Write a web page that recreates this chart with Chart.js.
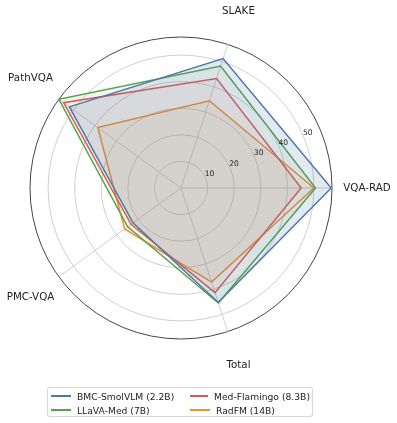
<!DOCTYPE html>
<html>
<head>
<meta charset="utf-8">
<script src="https://cdn.jsdelivr.net/npm/chart.js@4.4.1/dist/chart.umd.min.js"></script>
<style>
  body { margin: 0; background: #fff; }
  #wrap { position: relative; width: 397px; height: 423px; }
  #legend {
    position: absolute; left: 47px; top: 387px; width: 266px; height: 30px;
    box-sizing: border-box; border: 1px solid #d6d6d6; border-radius: 3px;
    font-family: "DejaVu Sans", sans-serif; font-size: 9.2px; color: #222;
    display: grid; grid-template-columns: 139px 120px; grid-auto-rows: 14px;
    padding: 1px 0 0 3px;
  }
  #legend div { display: flex; align-items: center; white-space: nowrap; }
  #legend span.ln { display: inline-block; width: 20px; height: 0; border-top: 2px solid; margin-right: 6px; }
</style>
</head>
<body>
<div id="wrap">
  <canvas id="radar" width="397" height="423"></canvas>
  <div id="legend"></div>
</div>
<script>
// axes in chart.js order (clockwise from the right, startAngle 90)
let categories = ["VQA-RAD", "Total", "PMC-VQA", "PathVQA", "SLAKE"];
let tickValues = [10, 20, 30, 40, 50];

let bmcSmol = [56.5, 45.3, 22.3, 51.9, 51.2];
let llavaMed = [50.6, 45.5, 24.8, 56.8, 48.2];
let medFlamingo = [45.2, 41.4, 23.2, 54.6, 43.3];
let radFM = [50.0, 37.2, 26.2, 38.7, 34.5];

let seriesNames = ["BMC-SmolVLM (2.2B)", "LLaVA-Med (7B)", "Med-Flamingo (8.3B)", "RadFM (14B)"];
let seriesColors = ["#4e79a7", "#59a14f", "#e15759", "#f28e2b"];
let fillAlpha = [0.16, 0.08, 0.08, 0.08];
let seriesData = [bmcSmol, llavaMed, medFlamingo, radFM];

let maxVal = Math.max(...seriesData.flat());

function fade(hex, a) {
  let n = parseInt(hex.slice(1), 16);
  return "rgba(" + (n >> 16) + "," + ((n >> 8) & 255) + "," + (n & 255) + "," + a + ")";
}

let datasets = seriesData.map((d, i) => ({
  label: seriesNames[i],
  data: d,
  borderColor: seriesColors[i],
  backgroundColor: fade(seriesColors[i], fillAlpha[i]),
  borderWidth: 1.5,
  pointRadius: 0,
  fill: true,
}));

// axis names and radial tick labels, matplotlib style
let labelPlugin = {
  id: "labelPlugin",
  afterDatasetsDraw(chart) {
    let r = chart.scales.r;
    let ctx = chart.ctx;
    ctx.save();
    ctx.textAlign = "center";
    ctx.textBaseline = "middle";
    ctx.fillStyle = "#222";
    ctx.font = "10.3px 'DejaVu Sans'";
    categories.forEach((c, i) => {
      let p = r.getPointPosition(i, r.drawingArea + 35);
      ctx.fillText(c, p.x, p.y);
    });
    ctx.font = "7.6px 'DejaVu Sans'";
    let a = 22.5 * Math.PI / 180;
    tickValues.forEach(v => {
      let d = r.getDistanceFromCenterForValue(v);
      ctx.fillText(String(v), r.xCenter + d * Math.cos(a) + 4, r.yCenter - d * Math.sin(a) - 4);
    });
    ctx.restore();
  }
};

let radarChart = new Chart(document.getElementById("radar").getContext("2d"), {
  type: "radar",
  data: { labels: categories, datasets: datasets },
  options: {
    responsive: false,
    animation: false,
    layout: { padding: { left: 30, top: 37, right: 65, bottom: 84 } },
    plugins: { legend: { display: false }, tooltip: { enabled: false } },
    elements: { line: { tension: 0 } },
    scales: {
      r: {
        min: 0,
        max: maxVal,
        startAngle: 90,
        ticks: { display: false, stepSize: 10 },
        pointLabels: { display: false },
        grid: {
          circular: true,
          color: (c) => (c.tick && c.tick.value >= maxVal ? "#444" : "#cfcfcf"),
          lineWidth: 1,
        },
        angleLines: { color: "#cfcfcf", lineWidth: 1 },
      },
    },
  },
  plugins: [labelPlugin],
});

// legend laid out in two columns like the original
let legendOrder = [0, 2, 1, 3];
let legendBox = document.getElementById("legend");
legendOrder.forEach(i => {
  let item = document.createElement("div");
  item.innerHTML = '<span class="ln" style="border-color:' + seriesColors[i] + '"></span>' + seriesNames[i];
  legendBox.appendChild(item);
});
</script>
</body>
</html>
